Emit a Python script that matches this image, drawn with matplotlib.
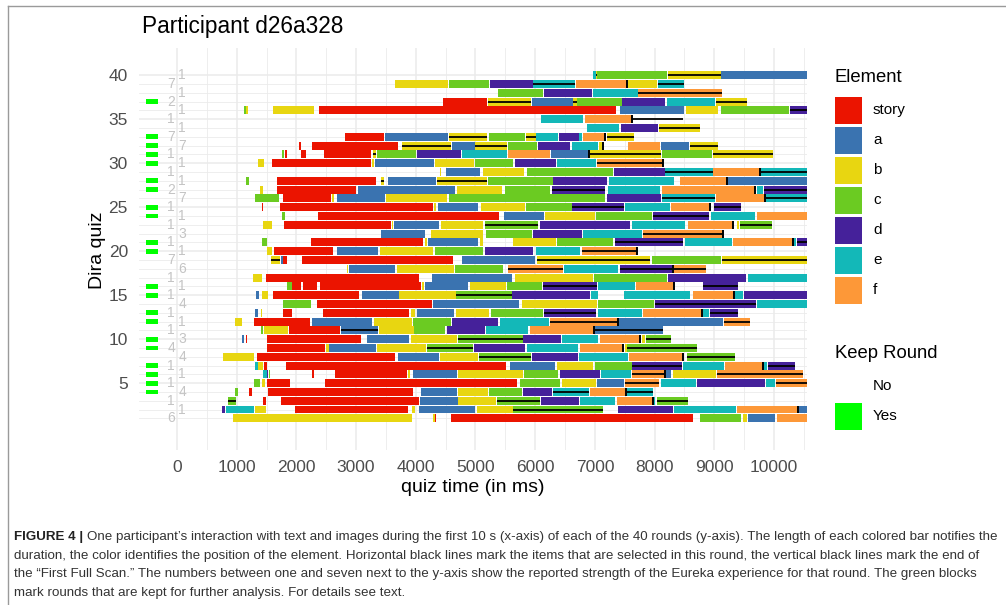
import matplotlib
matplotlib.use('Agg')
import matplotlib.pyplot as plt
from matplotlib.patches import Rectangle

plt.rcParams['font.family'] = ['Liberation Sans', 'DejaVu Sans']

# segments per element: (round, start ms, end ms, selected)
story = [(37, 4461, 5198, 0), (36, 2384, 7348, 0), (33, 2814, 3467, 0),
         (32, 2044, 2077, 0), (32, 2256, 3707, 0),
         (31, 1810, 1835, 0), (31, 2077, 2155, 0), (31, 2468, 3244, 0),
         (30, 1586, 3244, 0), (28, 1670, 3334, 0), (27, 1670, 2999, 0),
         (26, 1770, 2574, 0), (25, 1425, 1445, 0), (25, 1725, 4282, 0),
         (24, 2367, 5399, 0), (23, 1792, 3579, 0), (21, 2245, 4115, 0),
         (20, 1625, 2608, 0), (19, 1770, 1837, 0), (19, 2088, 4628, 0),
         (17, 1491, 4060, 0), (16, 1920, 2071, 0), (16, 2116, 2340, 0),
         (16, 2395, 4081, 0), (15, 1603, 3054, 0), (14, 2340, 4265, 0),
         (13, 1770, 1932, 0), (13, 2440, 3892, 0), (12, 1290, 2228, 0),
         (11, 1882, 2730, 0), (10, 1157, 1180, 0), (10, 1513, 3082, 0),
         (9, 1502, 2480, 0), (8, 1346, 3651, 0), (7, 1457, 1502, 0),
         (7, 1826, 5511, 0), (6, 2270, 2295, 0), (6, 2647, 3858, 0),
         (5, 1503, 1893, 0), (5, 2479, 5690, 0), (4, 1212, 1250, 0),
         (4, 1530, 3958, 0), (3, 1435, 1490, 0), (3, 1737, 4059, 0),
         (2, 1977, 3875, 0), (1, 4320, 4340, 0), (1, 4584, 8637, 0)]

elem_a = [(40, 9107, 10560, 0), (37, 5952, 6639, 0), (36, 7420, 8492, 0),
          (33, 3484, 4545, 0), (32, 4606, 4992, 0), (32, 8107, 8581, 0),
          (31, 6265, 6907, 0), (30, 3317, 4305, 0), (29, 4500, 5075, 0),
          (28, 3540, 4338, 0), (28, 9235, 10560, 0), (27, 3037, 4656, 0),
          (26, 2686, 3484, 0), (25, 4377, 5047, 0), (24, 5477, 6147, 0),
          (23, 3640, 4394, 0), (22, 3411, 4154, 0), (21, 4198, 5047, 0),
          (20, 2675, 3372, 0), (19, 1737, 1770, 0), (19, 4768, 5996, 0),
          (18, 2881, 3651, 0), (17, 4265, 5606, 0), (16, 4154, 4880, 0),
          (15, 1323, 1379, 0), (15, 3093, 3724, 0), (14, 4282, 5734, 0),
          (13, 1307, 1350, 0), (13, 4014, 4640, 0), (12, 2267, 3261, 0),
          (12, 7409, 9151, 0), (11, 2741, 3372, 1), (11, 6990, 8146, 1),
          (10, 1083, 1120, 0), (10, 3177, 3892, 0), (9, 2552, 3334, 0),
          (8, 3707, 4394, 0), (7, 5578, 6332, 0), (6, 3958, 4684, 0),
          (6, 8191, 8269, 0), (5, 7030, 7488, 0), (4, 4081, 4684, 0),
          (3, 4070, 4712, 0), (2, 4059, 4990, 0), (2, 10424, 10560, 0),
          (1, 9570, 10016, 0)]

elem_b = [(40, 7018, 7041, 1), (40, 8219, 9107, 1), (39, 3651, 4534, 0),
          (39, 7560, 8034, 0), (37, 5215, 5930, 1), (37, 6639, 6706, 1),
          (37, 9023, 9553, 1), (36, 1150, 1184, 0), (36, 1614, 2300, 0),
          (36, 8526, 9068, 0), (34, 8074, 8760, 1), (33, 4561, 5198, 1),
          (33, 5846, 6014, 1), (33, 7197, 7655, 1), (32, 3763, 4589, 1),
          (32, 4992, 5522, 1), (32, 7074, 7113, 0), (32, 8592, 9067, 1),
          (31, 3277, 3327, 1), (31, 6918, 8102, 1), (31, 8973, 9978, 1),
          (30, 1351, 1463, 0), (30, 3272, 3305, 0), (30, 4321, 4975, 0),
          (29, 4405, 4430, 0), (29, 5120, 5813, 0), (28, 3412, 3473, 1),
          (28, 4360, 5187, 1), (27, 1390, 1446, 0), (27, 4684, 5438, 0),
          (26, 2602, 2630, 0), (26, 3501, 4517, 0), (25, 4310, 4340, 0),
          (25, 5087, 5830, 0), (24, 6164, 7002, 0), (23, 1446, 1586, 0),
          (23, 3596, 3620, 0), (23, 4422, 5131, 0), (23, 9386, 9420, 0),
          (22, 4249, 5131, 0), (21, 4150, 4180, 0), (21, 5075, 5131, 0),
          (21, 5634, 6349, 0), (20, 1502, 1586, 0), (20, 3400, 4294, 0),
          (19, 1569, 1725, 1), (19, 6025, 7923, 1), (19, 9123, 10560, 1),
          (18, 2842, 2870, 0), (18, 3679, 4640, 0), (17, 1279, 1418, 0),
          (17, 5662, 6963, 0), (16, 4109, 4140, 0), (16, 4908, 5511, 0),
          (15, 1430, 1530, 0), (15, 3724, 4673, 0), (14, 5773, 7030, 0),
          (13, 1400, 1430, 0), (13, 3920, 3990, 0), (13, 4673, 5232, 0),
          (12, 972, 1084, 0), (12, 3305, 3930, 0), (11, 1457, 1865, 0),
          (11, 3389, 3970, 0), (10, 3920, 4685, 0), (10, 7794, 7840, 0),
          (9, 2496, 2552, 0), (9, 3356, 4171, 0), (9, 7504, 7532, 0),
          (8, 765, 1290, 0), (8, 4405, 5047, 0), (7, 1360, 1446, 0),
          (7, 6371, 6974, 0), (6, 3870, 3900, 0), (6, 4712, 5801, 0),
          (6, 8314, 9030, 0), (5, 1418, 1475, 0), (5, 6443, 7018, 0),
          (4, 4712, 5215, 0), (3, 4712, 5343, 0), (2, 1307, 1491, 0),
          (2, 3945, 3985, 0), (2, 5030, 5622, 0), (1, 932, 3930, 0),
          (1, 4294, 4320, 0), (1, 9475, 9542, 0)]

elem_c = [(40, 7041, 8202, 0), (39, 4556, 5226, 0), (38, 5372, 6125, 0),
          (37, 6706, 7449, 0), (36, 1122, 1150, 0), (36, 9107, 10257, 0),
          (33, 5232, 5829, 0), (32, 5539, 6025, 0), (31, 1753, 1790, 0),
          (31, 3344, 4003, 0), (31, 8118, 8956, 0), (30, 4992, 5634, 0),
          (29, 5857, 7309, 0), (28, 1156, 1212, 0), (28, 5215, 6293, 0),
          (27, 5494, 6248, 0), (26, 1307, 1714, 0), (26, 4561, 7169, 0),
          (25, 5846, 6611, 0), (24, 1765, 1810, 0), (24, 7018, 7951, 0),
          (23, 5159, 6053, 1), (23, 9430, 9960, 1), (22, 5176, 5941, 0),
          (21, 1420, 1505, 0), (21, 6371, 7309, 0), (20, 4321, 5131, 0),
          (19, 7951, 9107, 0), (18, 4656, 5466, 0), (17, 6985, 8213, 0),
          (16, 1848, 1920, 0), (16, 5533, 6108, 0), (15, 4673, 5606, 1),
          (14, 1781, 2245, 0), (14, 7046, 7990, 0), (13, 5254, 6136, 0),
          (12, 3948, 4584, 0), (11, 1400, 1435, 0), (11, 3970, 4489, 0),
          (10, 4712, 5790, 1), (10, 7850, 8275, 1), (9, 4182, 4963, 1),
          (9, 7532, 8705, 1), (8, 5064, 5924, 1), (8, 8537, 9347, 1),
          (7, 7002, 7616, 0), (6, 1540, 1560, 0), (6, 5813, 6388, 0),
          (5, 1296, 1390, 0), (5, 5745, 6416, 0), (4, 972, 1030, 0),
          (4, 5232, 5773, 0), (3, 860, 988, 1), (3, 5366, 6080, 1),
          (3, 8035, 8565, 1), (2, 5634, 7141, 1), (1, 8760, 9441, 0)]

elem_d = [(39, 5243, 5958, 0), (38, 6147, 6946, 0), (37, 7460, 8174, 0),
          (36, 10268, 10560, 1), (34, 7432, 8063, 0), (33, 6393, 6739, 0),
          (32, 6042, 6583, 0), (31, 4025, 4751, 0), (30, 5662, 6349, 0),
          (29, 7320, 8174, 0), (28, 6304, 7208, 0), (27, 6276, 7169, 1),
          (27, 9832, 10560, 1), (26, 7197, 8102, 0), (25, 6611, 7487, 1),
          (25, 8995, 9442, 1), (24, 7968, 8917, 1), (23, 6080, 7588, 0),
          (22, 5958, 6779, 0), (21, 7337, 8481, 1), (21, 10380, 10560, 1),
          (20, 5159, 5969, 0), (18, 7420, 8286, 1), (17, 8230, 9531, 0),
          (16, 6125, 7030, 1), (16, 8816, 9402, 1), (15, 5606, 6918, 0),
          (15, 9497, 10560, 0), (14, 8007, 9698, 1), (13, 6147, 7018, 1),
          (13, 8928, 9402, 1), (12, 4600, 5382, 0), (11, 4517, 5159, 0),
          (10, 5801, 6427, 0), (9, 4974, 5829, 0), (8, 5941, 6723, 0),
          (7, 7627, 8453, 1), (7, 9894, 10352, 1), (6, 1502, 1520, 0),
          (6, 6416, 7085, 0), (5, 8716, 9850, 0), (4, 5801, 6276, 0),
          (3, 6097, 6739, 0), (2, 758, 800, 0), (2, 7381, 8303, 0)]

elem_e = [(40, 6974, 7018, 0), (39, 5969, 6672, 1), (39, 8051, 8487, 1),
          (38, 6963, 7716, 0), (37, 8202, 9012, 0), (35, 6097, 6795, 0),
          (34, 6862, 7409, 0), (33, 6014, 6376, 0), (33, 6739, 6778, 0),
          (32, 6611, 7058, 0), (31, 4768, 5533, 0), (30, 6371, 7018, 0),
          (29, 8174, 8973, 1), (29, 9776, 10560, 1), (28, 7242, 8325, 0),
          (27, 7225, 8091, 0), (27, 9710, 9821, 0), (26, 8118, 9012, 1),
          (26, 9866, 10560, 1), (25, 7504, 8258, 0), (24, 8939, 9682, 0),
          (23, 7627, 8509, 0), (22, 6806, 7783, 0), (21, 8509, 9291, 0),
          (21, 10324, 10370, 0), (20, 6008, 6751, 0), (18, 6488, 7392, 0),
          (17, 9570, 10560, 0), (16, 7058, 7672, 0), (15, 6930, 7046, 0),
          (15, 7487, 8593, 0), (15, 9352, 9475, 0), (14, 9721, 10560, 0),
          (13, 7046, 7783, 0), (13, 8816, 8917, 0), (12, 5410, 6237, 0),
          (11, 5176, 5885, 0), (10, 6443, 7058, 0), (9, 5869, 6723, 0),
          (8, 6739, 7560, 0), (7, 1307, 1350, 0), (7, 8481, 9163, 0),
          (7, 9821, 9877, 0), (6, 1435, 1502, 0), (6, 7102, 7599, 0),
          (5, 8102, 8693, 0), (5, 9860, 10016, 0), (4, 6293, 6907, 1),
          (4, 7532, 7979, 1), (3, 6751, 7337, 0), (3, 7979, 8007, 0),
          (2, 821, 1296, 0), (2, 8325, 9363, 0)]

elem_f = [(39, 6683, 7532, 0), (38, 7727, 9123, 1), (35, 6834, 7616, 0),
          (33, 6795, 7169, 0), (32, 7560, 8091, 0), (31, 5550, 6248, 0),
          (30, 7041, 8135, 1), (29, 8973, 9765, 0), (28, 8425, 9207, 0),
          (27, 8118, 9682, 0), (26, 9028, 9832, 0), (25, 8275, 8917, 0),
          (24, 9710, 10560, 0), (23, 8565, 9319, 0), (22, 7811, 9151, 1),
          (21, 9319, 10296, 0), (20, 6779, 7700, 1), (18, 5550, 6471, 1),
          (18, 8325, 8861, 1), (16, 7688, 8325, 0), (15, 8637, 9330, 0),
          (13, 7800, 8788, 0), (12, 6248, 7393, 1), (12, 9163, 9598, 1),
          (11, 5913, 6990, 0), (10, 7085, 7744, 0), (9, 6751, 7465, 0),
          (8, 7577, 8481, 0), (7, 9180, 9810, 0), (6, 7627, 8174, 1),
          (6, 9040, 10480, 1), (5, 7504, 8080, 1), (5, 10033, 10560, 1),
          (4, 6918, 7504, 0), (3, 7365, 7968, 0), (2, 9386, 10408, 0),
          (1, 10044, 10560, 0)]

# selection line without a bar underneath
extra_selected = [(35, 7616, 8481)]

# end of "First Full Scan" (round, ms)
scan_end = [(39, 7532), (35, 7616), (33, 7169), (32, 7130), (31, 6907), (30, 8135),
            (29, 9765), (28, 9219), (27, 9682), (26, 9843), (25, 8928), (23, 9319),
            (22, 9151), (21, 10313), (20, 7700), (18, 8303), (16, 8325), (15, 9330),
            (13, 8799), (12, 7393), (11, 6990), (10, 7755), (9, 7477), (8, 8481),
            (7, 9810), (6, 8174), (4, 7515), (3, 7979), (2, 10408)]

# Eureka strength for rounds 1..40
eureka = [6, 1, 1, 4, 1, 1, 1, 4, 4, 3, 1, 1, 1, 4, 1, 1, 1, 6, 7, 1,
          1, 3, 1, 1, 1, 7, 2, 1, 1, 1, 1, 7, 7, 1, 1, 1, 2, 1, 7, 1]
keep_rounds = [4, 5, 6, 7, 9, 10, 12, 13, 15, 16, 20, 21, 24, 25, 27, 28,
               30, 31, 32, 33, 37]

element_names = ['story', 'a', 'b', 'c', 'd', 'e', 'f']
element_colors = ['#EB1400', '#3A73B0', '#E8D611', '#6BCB22', '#45219A', '#13B8B8', '#FD9838']
element_data = [story, elem_a, elem_b, elem_c, elem_d, elem_e, elem_f]

W, H = 1006, 605
fig = plt.figure(figsize=(W / 100, H / 100), dpi=100)
px_l, px_r, px_t, px_b = 139, 807, 48, 450
ax = fig.add_axes([px_l / W, 1 - px_b / H, (px_r - px_l) / W, (px_b - px_t) / H])
ax.set_xlim(-636, 10553)
ax.set_ylim(-2.6, 43.1)

# grid
for x in range(0, 10501, 500):
    ax.axvline(x, color='#EBEBEB', lw=1.1 if x % 1000 == 0 else 0.6, zorder=0)
for r in range(1, 41):
    ax.axhline(r, color='#EBEBEB', lw=1.1 if r % 5 == 0 else 0.6, zorder=0)

bar_h = 0.9
for name, col, data in zip(element_names, element_colors, element_data):
    rows = [d[0] for d in data]
    starts = [d[1] for d in data]
    widths = [d[2] - d[1] for d in data]
    ax.barh(rows, widths, left=starts, height=bar_h, color=col, lw=0, zorder=2)
    sel = [d for d in data if d[3]]
    ax.hlines([d[0] for d in sel], [d[1] for d in sel], [d[2] for d in sel],
              color='black', lw=1.3, zorder=3)

ax.hlines([d[0] for d in extra_selected], [d[1] for d in extra_selected],
          [d[2] for d in extra_selected], color='black', lw=1.3, zorder=3)
ax.vlines([s[1] for s in scan_end], [s[0] - bar_h / 2 for s in scan_end],
          [s[0] + bar_h / 2 for s in scan_end], color='black', lw=1.4, zorder=3)

# keep markers
ax.barh(keep_rounds, [202] * len(keep_rounds), left=-520, height=0.55,
        color='#00FF00', lw=0, zorder=2)

# eureka numbers next to the axis
for i, v in enumerate(eureka):
    rnd = i + 1
    xpos = -100 if rnd % 2 == 1 else 85
    ax.text(xpos, rnd, str(v), ha='center', va='center', color='#C4C4C4',
            fontsize=10, zorder=4)

for s in ax.spines.values():
    s.set_visible(False)
ax.set_xticks(range(0, 10001, 1000))
ax.set_yticks(range(5, 41, 5))
ax.tick_params(length=0, labelsize=12.5, labelcolor='#4D4D4D')
ax.tick_params(axis='x', pad=7)
ax.tick_params(axis='y', pad=8)

fig.text(142 / W, 1 - 27 / H, 'Participant d26a328', fontsize=16.3, va='center', ha='left')
fig.text(473 / W, 1 - 488 / H, 'quiz time (in ms)', fontsize=14, va='center', ha='center')
fig.text(98 / W, 1 - 250 / H, 'Dira quiz', fontsize=14, va='center', ha='center', rotation=90)

# overlay in pixel coordinates for legend, frame and caption
ov = fig.add_axes([0, 0, 1, 1], zorder=-1)
ov.set_xlim(0, W)
ov.set_ylim(H, 0)
ov.axis('off')
ov.plot([8, W], [6, 6], color='#9A9A9A', lw=1)
ov.plot([8, 8], [6, H], color='#9A9A9A', lw=1)

ov.text(835, 77, 'Element', fontsize=13.3, va='center', ha='left')
for i, (name, col) in enumerate(zip(element_names, element_colors)):
    yc = 110 + 30 * i
    ov.add_patch(Rectangle((835, yc - 13.5), 27, 27, color=col, lw=0))
    ov.text(873, yc, name, fontsize=11, va='center', ha='left')
ov.text(835, 354, 'Keep Round', fontsize=13.3, va='center', ha='left')
ov.text(873, 386, 'No', fontsize=11, va='center', ha='left')
ov.add_patch(Rectangle((835, 403), 27, 27, color='#00FF00', lw=0))
ov.text(873, 416, 'Yes', fontsize=11, va='center', ha='left')

caption = [
    'One participant\u2019s interaction with text and images during the first 10 s (x-axis) of each of the 40 rounds (y-axis). The length of each colored bar notifies the',
    'duration, the color identifies the position of the element. Horizontal black lines mark the items that are selected in this round, the vertical black lines mark the end of',
    'the \u201cFirst Full Scan.\u201d The numbers between one and seven next to the y-axis show the reported strength of the Eureka experience for that round. The green blocks',
    'mark rounds that are kept for further analysis. For details see text.',
]
cap_y = [537, 556, 574.5, 593]
cap_size = 9.6
head = fig.text(14 / W, 1 - cap_y[0] / H, 'FIGURE 4 |', fontsize=cap_size, fontweight='bold',
                color='#222222', va='center', ha='left')
fig.canvas.draw()
bb = head.get_window_extent()
fig.text((bb.x1 + 4) / W, 1 - cap_y[0] / H, caption[0], fontsize=cap_size, color='#333333',
         va='center', ha='left')
for line, y in zip(caption[1:], cap_y[1:]):
    fig.text(14 / W, 1 - y / H, line, fontsize=cap_size, color='#333333', va='center', ha='left')

fig.savefig('out.png', dpi=100)
